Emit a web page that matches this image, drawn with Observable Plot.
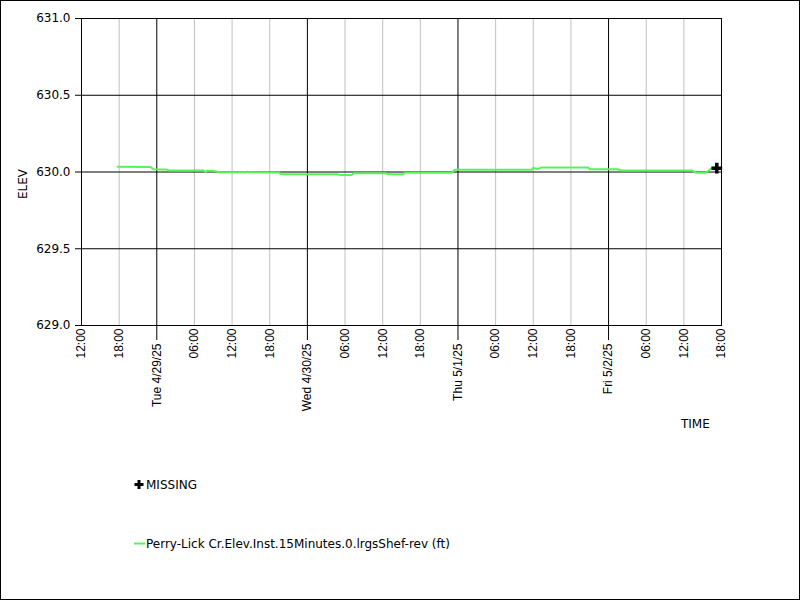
<!DOCTYPE html>
<html>
<head>
<meta charset="utf-8">
<script src="https://cdn.jsdelivr.net/npm/d3@7"></script>
<script src="https://cdn.jsdelivr.net/npm/@observablehq/plot@0.6"></script>
<style>
  html, body { margin: 0; padding: 0; background: #fff; }
  #wrap { position: relative; width: 800px; height: 600px; overflow: hidden; background: #fff; }
  #border { position: absolute; left: 0; top: 0; width: 798px; height: 598px; border: 1px solid #000; pointer-events: none; }
  #overlay { position: absolute; left: 0; top: 0; pointer-events: none; }
  #chart { position: absolute; left: 0; top: 0; }
</style>
</head>
<body>
<div id="wrap">
  <div id="chart"></div>
  <svg id="overlay" width="800" height="600" font-family="DejaVu Sans" font-size="12">
    <text x="0" y="0" transform="translate(27,184) rotate(-90)" text-anchor="middle">ELEV</text>
    <text x="681" y="428">TIME</text>
    <path d="M137.5,480 h3 v3 h3 v3 h-3 v3 h-3 v-3 h-3 v-3 h3 z" fill="#000"/>
    <text x="146" y="489">MISSING</text>
    <line x1="134" x2="145" y1="543.5" y2="543.5" stroke="#55f555" stroke-width="2"/>
    <text x="146" y="548">Perry-Lick Cr.Elev.Inst.15Minutes.0.lrgsShef-rev (ft)</text>
  </svg>
  <div id="border"></div>
</div>
<script>
// ---- data ----
const times = [
  "2025-04-28T17:45Z", "2025-04-28T23:00Z", "2025-04-28T23:30Z", "2025-04-29T01:30Z",
  "2025-04-29T02:00Z", "2025-04-29T07:30Z", "2025-04-29T07:45Z", "2025-04-29T08:00Z",
  "2025-04-29T09:00Z", "2025-04-29T10:00Z", "2025-04-29T14:15Z", "2025-04-29T14:30Z",
  "2025-04-29T14:45Z", "2025-04-29T19:30Z", "2025-04-29T19:45Z", "2025-04-30T04:45Z",
  "2025-04-30T05:15Z", "2025-04-30T07:00Z", "2025-04-30T07:30Z", "2025-04-30T12:30Z",
  "2025-04-30T12:45Z", "2025-04-30T15:15Z", "2025-04-30T15:30Z", "2025-04-30T23:00Z",
  "2025-04-30T23:30Z", "2025-05-01T11:45Z", "2025-05-01T12:00Z", "2025-05-01T12:45Z",
  "2025-05-01T13:15Z", "2025-05-01T20:45Z", "2025-05-01T21:00Z", "2025-05-02T01:30Z",
  "2025-05-02T02:00Z", "2025-05-02T13:15Z", "2025-05-02T14:00Z", "2025-05-02T15:30Z",
  "2025-05-02T16:30Z", "2025-05-02T17:15Z"
];
const elev = [
  630.035, 630.032, 630.018, 630.017,
  630.010, 630.009, 629.999, 630.008,
  630.008, 629.998, 629.998, 630.003,
  629.998, 629.997, 629.986, 629.986,
  629.980, 629.980, 629.992, 629.992,
  629.986, 629.986, 629.995, 629.995,
  630.014, 630.014, 630.027, 630.020,
  630.029, 630.029, 630.018, 630.018,
  630.010, 630.010, 629.995, 629.995,
  630.028, 630.031
];
const missingTimes = ["2025-05-02T17:15Z"];
const missingElev = [630.025];

const yTicks = [629.0, 629.5, 630.0, 630.5, 631.0];
const dayTicks = ["2025-04-29T00:00Z", "2025-04-30T00:00Z", "2025-05-01T00:00Z", "2025-05-02T00:00Z"];
const dayLabels = ["Tue 4/29/25", "Wed 4/30/25", "Thu 5/1/25", "Fri 5/2/25"];
const hourTicks = [
  "2025-04-28T12:00Z", "2025-04-28T18:00Z",
  "2025-04-29T06:00Z", "2025-04-29T12:00Z", "2025-04-29T18:00Z",
  "2025-04-30T06:00Z", "2025-04-30T12:00Z", "2025-04-30T18:00Z",
  "2025-05-01T06:00Z", "2025-05-01T12:00Z", "2025-05-01T18:00Z",
  "2025-05-02T06:00Z", "2025-05-02T12:00Z", "2025-05-02T18:00Z"
];
const hourLabels = ["12:00", "18:00", "06:00", "12:00", "18:00", "06:00", "12:00", "18:00",
                    "06:00", "12:00", "18:00", "06:00", "12:00", "18:00"];
const xDomain = ["2025-04-28T12:00Z", "2025-05-02T18:00Z"];
const yDomain = [629, 631];

// ---- build ----
const series = times.map((t, i) => ({time: new Date(t), elev: elev[i]}));
const missing = missingTimes.map((t, i) => ({time: new Date(t), elev: missingElev[i]}));
const days = dayTicks.map(d => new Date(d));
const hours = hourTicks.map(d => new Date(d));
const dayLab = new Map(days.map((d, i) => [+d, dayLabels[i]]));
const hourLab = new Map(hours.map((d, i) => [+d, hourLabels[i]]));

const chart = Plot.plot({
  width: 800,
  height: 600,
  marginLeft: 81,
  marginRight: 79,
  marginTop: 18,
  marginBottom: 275,
  style: {fontFamily: "DejaVu Sans", fontSize: "12px", color: "#000", background: "transparent"},
  x: {type: "utc", domain: xDomain.map(d => new Date(d))},
  y: {domain: yDomain},
  marks: [
    Plot.ruleX(hours.filter((d, i) => i > 0 && i < hours.length - 1), {stroke: "#c0c0c0", strokeWidth: 1}),
    Plot.ruleX(days, {stroke: "#000", strokeWidth: 1}),
    Plot.ruleY(yTicks.filter(v => v > 629 && v < 631), {stroke: "#000", strokeWidth: 1}),
    Plot.line(series, {x: "time", y: "elev", stroke: "#55f555", strokeWidth: 2, curve: "linear"}),
    Plot.dot(missing, {x: "time", y: "elev", symbol: "cross", fill: "#000", r: 4.5}),
    Plot.frame({stroke: "#000", strokeWidth: 1}),
    Plot.axisY(yTicks, {tickSize: 6, tickPadding: 5, tickFormat: d => d.toFixed(1), label: null, fontSize: 12, fontFamily: "DejaVu Sans"}),
    Plot.axisX(hours, {tickSize: 0, tickPadding: 3, tickRotate: -90, tickFormat: d => hourLab.get(+d), label: null, fontSize: 12, fontFamily: "Liberation Sans"}),
    Plot.axisX(days, {tickSize: 15, tickPadding: 3, tickRotate: -90, tickFormat: d => dayLab.get(+d), label: null, fontSize: 12, fontFamily: "Liberation Sans"})
  ]
});
document.getElementById("chart").appendChild(chart);
</script>
</body>
</html>
